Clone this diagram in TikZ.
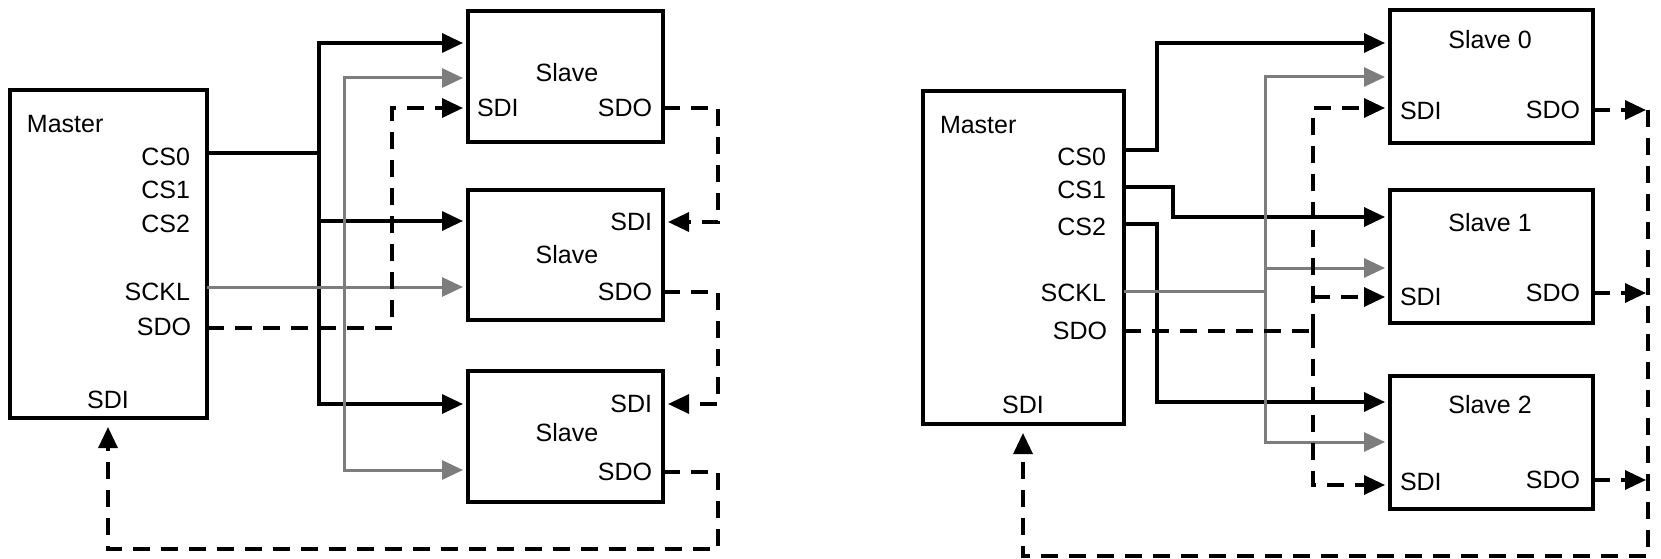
\documentclass[tikz,border=0pt]{standalone}
\usepackage{fontspec}
\setmainfont{Liberation Sans}
\usetikzlibrary{arrows.meta}
\definecolor{sgrey}{RGB}{125,125,125}
\begin{document}
\begin{tikzpicture}[x=1pt,y=-1pt,
  box/.style={draw,line width=3.5pt,anchor=north west,inner sep=0,outer sep=0},
  lbl/.style={inner sep=0,outer sep=0,font=\fontsize{25}{30}\selectfont},
  sig/.style={line width=3.4pt},
  gsig/.style={line width=3pt,draw=sgrey},
  dsig/.style={line width=3.4pt,dash pattern=on 17pt off 11pt},
  tip/.style={-{Triangle[length=21pt,width=19pt]},shorten >=5pt}]
\useasboundingbox (0,0) rectangle (1661,559);

% ---------------- left diagram ----------------
\node[box,minimum width=197pt,minimum height=328pt] (M) at (10,90) {};
\node[box,minimum width=195pt,minimum height=131pt] (S1) at (468,11) {};
\node[box,minimum width=195pt,minimum height=130pt] (S2) at (468,190) {};
\node[box,minimum width=195pt,minimum height=131pt] (S3) at (468,371) {};

\node[lbl,anchor=west] (mt) at (27,124) {Master};
\node[lbl,anchor=east] (mcs0) at (190,157) {CS0};
\node[lbl,anchor=east] (mcs1) at (190,190) {CS1};
\node[lbl,anchor=east] (mcs2) at (190,224) {CS2};
\node[lbl,anchor=east] (mscl) at (190,292) {SCKL};
\node[lbl,anchor=east] (msdo) at (191,327) {SDO};
\node[lbl] (msdi) at (108,400) {SDI};

\node[lbl] (s1t) at (567,73) {Slave};
\node[lbl,anchor=west] (s1i) at (477,108) {SDI};
\node[lbl,anchor=east] (s1o) at (652,108) {SDO};
\node[lbl,anchor=east] (s2i) at (652,222) {SDI};
\node[lbl] (s2t) at (567,255) {Slave};
\node[lbl,anchor=east] (s2o) at (652,292) {SDO};
\node[lbl,anchor=east] (s3i) at (652,404) {SDI};
\node[lbl] (s3t) at (567,433) {Slave};
\node[lbl,anchor=east] (s3o) at (652,472) {SDO};

\coordinate (jA) at (319,153);
\coordinate (jB) at (344,287);
\coordinate (jC) at (392,328);
\draw[sig] (M.east |- jA) -- (jA);
\draw[sig,tip] (jA) |- (S1.west |- 0,43);
\draw[sig,tip] (jA) |- (S2.west |- 0,221);
\draw[sig,tip] (jA) |- (S3.west |- 0,404);

\draw[gsig,tip] (M.east |- jB) -- (S2.west |- jB);
\draw[gsig,tip] (jB) |- (S1.west |- 0,78);
\draw[gsig,tip] (jB) |- (S3.west |- 0,470);

\draw[dsig,tip] (M.east |- jC) -- (jC) |- (S1.west |- 0,108);
\draw[dsig,tip] (S1.east |- 0,108) -| (718,222) -- (S2.east |- 0,222);
\draw[dsig,tip] (S2.east |- 0,292) -| (718,404) -- (S3.east |- 0,404);
\draw[dsig,tip,shorten >=9pt] (S3.east |- 0,472) -| (718,549) -| (M.south -| 108,0);

% ---------------- right diagram ----------------
\node[box,minimum width=201pt,minimum height=333pt] (N) at (923,91) {};
\node[box,minimum width=203pt,minimum height=133pt] (T0) at (1390,10) {};
\node[box,minimum width=203pt,minimum height=133pt] (T1) at (1390,190) {};
\node[box,minimum width=203pt,minimum height=133pt] (T2) at (1390,376) {};

\node[lbl,anchor=west] (nt) at (940,125) {Master};
\node[lbl,anchor=east] (ncs0) at (1106,157) {CS0};
\node[lbl,anchor=east] (ncs1) at (1106,190) {CS1};
\node[lbl,anchor=east] (ncs2) at (1106,227) {CS2};
\node[lbl,anchor=east] (nscl) at (1106,293) {SCKL};
\node[lbl,anchor=east] (nsdo) at (1107,331) {SDO};
\node[lbl] (nsdi) at (1023,405) {SDI};

\node[lbl] (t0t) at (1490,40) {Slave 0};
\node[lbl,anchor=west] (t0i) at (1400,111) {SDI};
\node[lbl,anchor=east] (t0o) at (1580,110) {SDO};
\node[lbl] (t1t) at (1490,223) {Slave 1};
\node[lbl,anchor=west] (t1i) at (1400,297) {SDI};
\node[lbl,anchor=east] (t1o) at (1580,293) {SDO};
\node[lbl] (t2t) at (1490,405) {Slave 2};
\node[lbl,anchor=west] (t2i) at (1400,482) {SDI};
\node[lbl,anchor=east] (t2o) at (1580,480) {SDO};

\draw[sig,tip] (N.east |- 0,150) -| (1157,43) -- (T0.west |- 0,43);
\draw[sig,tip] (N.east |- 0,187) -| (1173,217) -- (T1.west |- 0,217);
\draw[sig,tip] (N.east |- 0,224) -| (1157,402) -- (T2.west |- 0,402);

\coordinate (kB) at (1265,291);
\draw[gsig] (N.east |- kB) -- (kB);
\draw[gsig,tip] (kB) |- (T0.west |- 0,77);
\draw[gsig,tip] (kB) |- (T2.west |- 0,442);
\draw[gsig,tip] (kB |- 0,268) -- (T1.west |- 0,268);

\coordinate (kC) at (1313,331);
\draw[dsig] (N.east |- kC) -- (kC);
\draw[dsig,tip] (kC) |- (T0.west |- 0,108);
\draw[dsig,tip] (kC) |- (T2.west |- 0,485);
\draw[dsig,tip] (kC |- 0,297) -- (T1.west |- 0,297);

\coordinate (rB) at (1648,110);
\draw[dsig,tip,shorten >=2pt] (T0.east |- rB) -- (rB);
\draw[dsig,tip,shorten >=2pt] (T1.east |- 0,293) -- (rB |- 0,293);
\draw[dsig,tip,shorten >=2pt] (T2.east |- 0,480) -- (rB |- 0,480);
\draw[dsig,tip,shorten >=9pt] (rB) |- (1023,556) -- (N.south -| 1023,0);
\end{tikzpicture}
\end{document}
